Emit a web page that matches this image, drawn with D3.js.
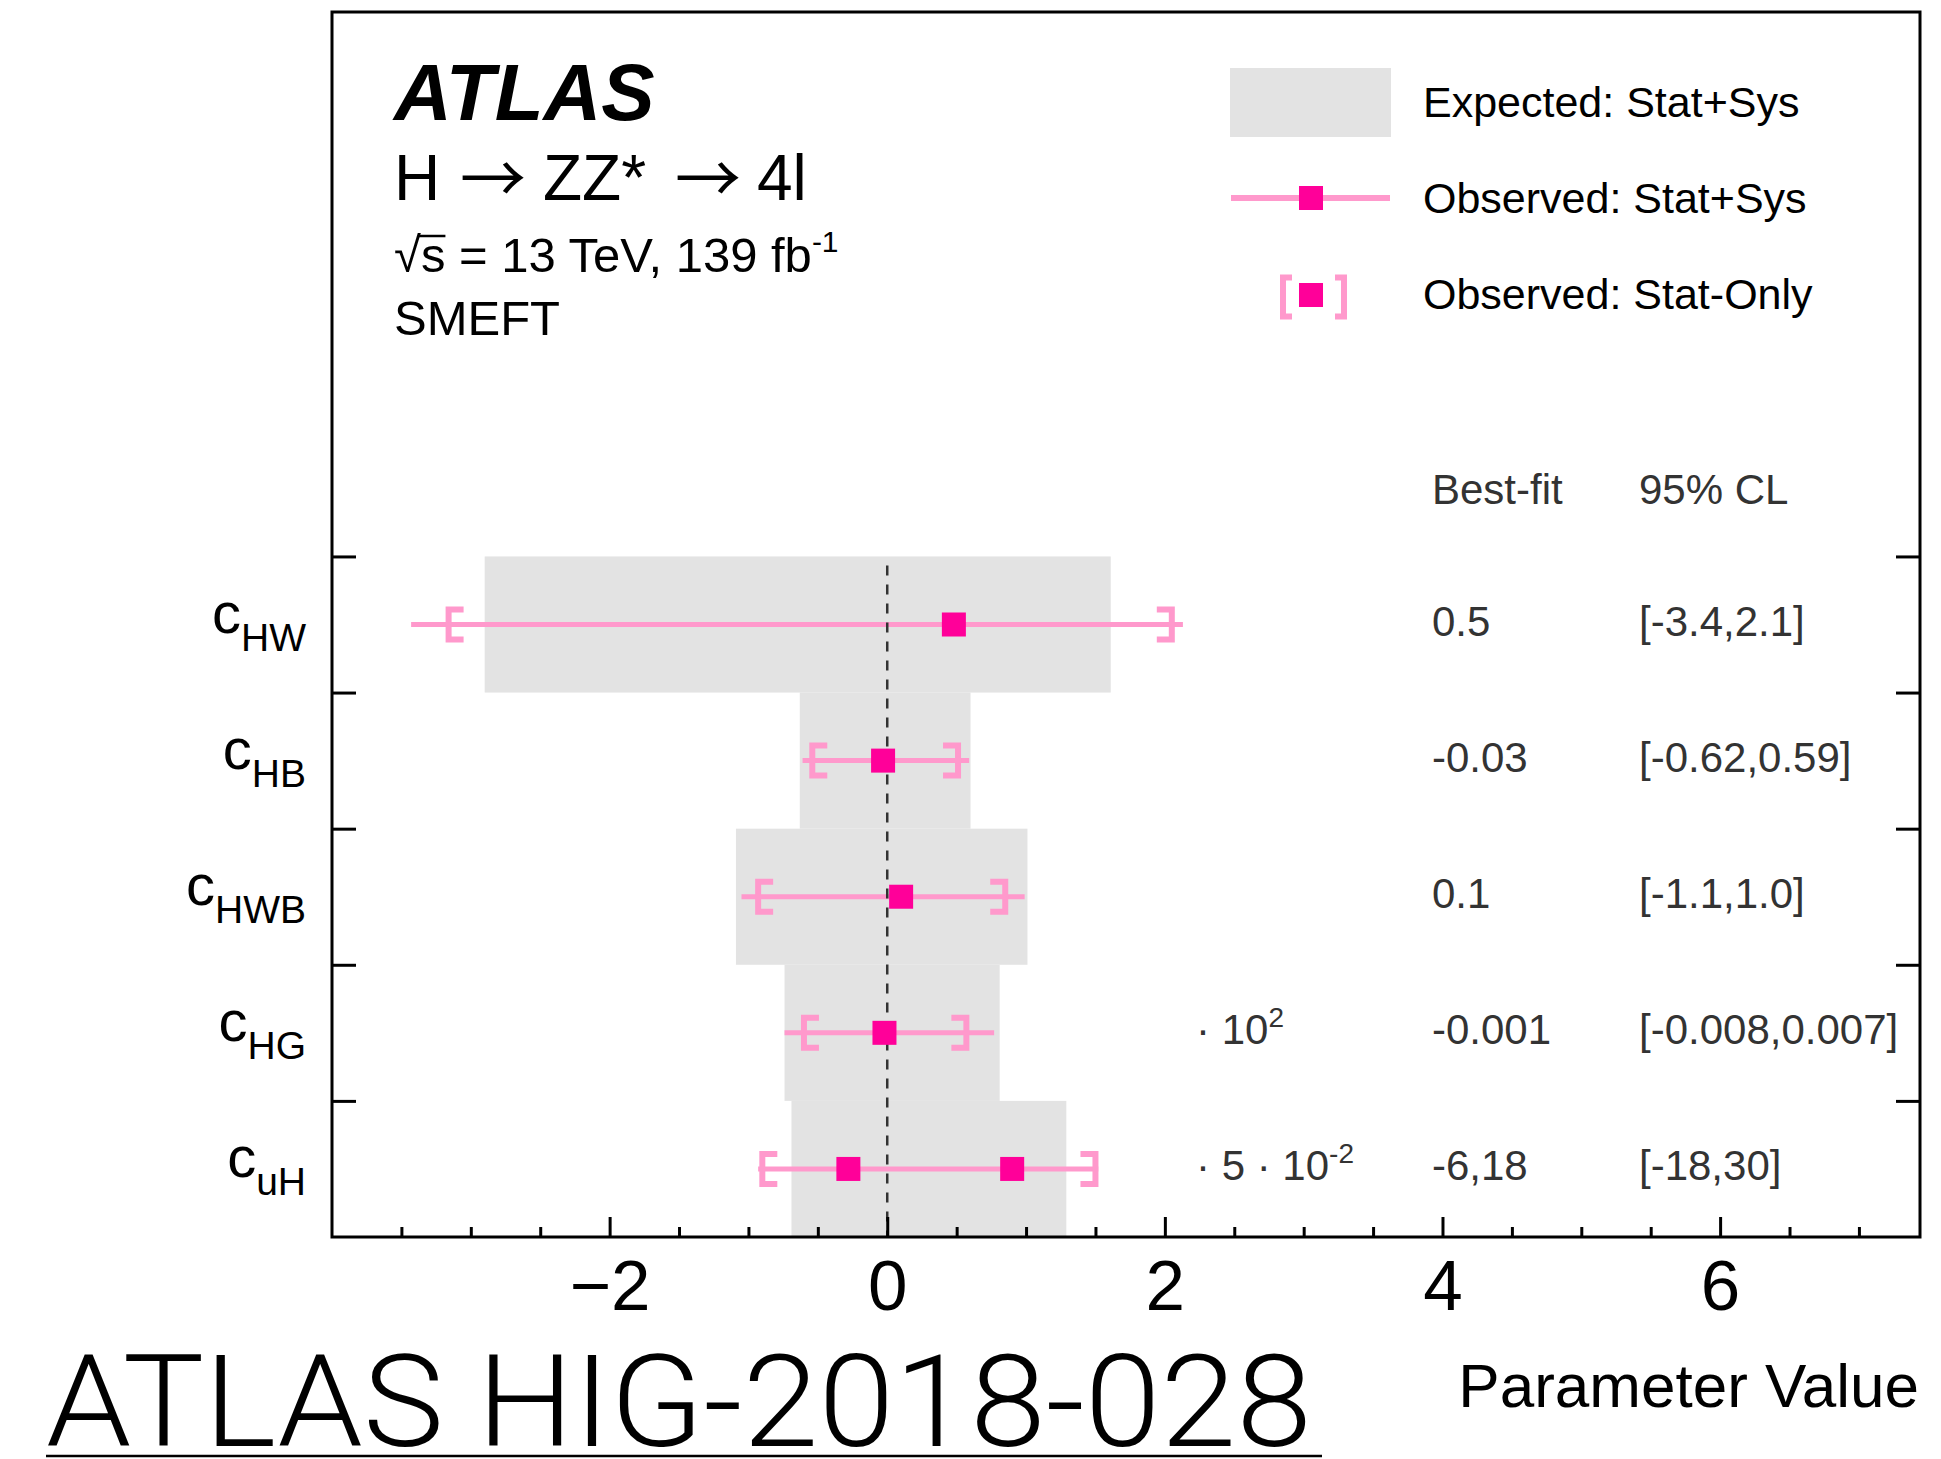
<!DOCTYPE html>
<html>
<head>
<meta charset="utf-8">
<script src="https://cdn.jsdelivr.net/npm/d3@7"></script>
<style>
  body { margin: 0; background: #fff; }
  svg { display: block; font-family: "Liberation Sans", Arial, Helvetica, sans-serif; }
</style>
</head>
<body>
<div id="chart"></div>
<script>
// ---- data (x in plotted units) ----
const params   = ["HW", "HB", "HWB", "HG", "uH"];          // c_{...}, top to bottom
const expLo    = [-2.90, -0.63, -1.09, -0.74, -0.69];       // Expected: Stat+Sys band
const expHi    = [ 1.61,  0.60,  1.01,  0.81,  1.29];
const obsLo    = [-3.43, -0.61, -1.05, -0.74, -0.93];       // Observed: Stat+Sys line
const obsHi    = [ 2.13,  0.59,  0.99,  0.77,  1.52];
const statLo   = [-3.16, -0.54, -0.93, -0.60, -0.90];       // Observed: Stat-Only brackets
const statHi   = [ 2.05,  0.51,  0.85,  0.57,  1.50];
const bestFit  = [[0.48], [-0.03], [0.10], [-0.02], [-0.28, 0.90]];
const scaleTxt = ["", "", "", "\u00b7 10", "\u00b7 5 \u00b7 10"];
const scaleExp = ["", "", "", "2", "-2"];
const bestTxt  = ["0.5", "-0.03", "0.1", "-0.001", "-6,18"];
const clTxt    = ["[-3.4,2.1]", "[-0.62,0.59]", "[-1.1,1.0]", "[-0.008,0.007]", "[-18,30]"];
const majorTicks = [-2, 0, 2, 4, 6];
const minorTicks = [-3.5, -3, -2.5, -1.5, -1, -0.5, 0.5, 1, 1.5, 2.5, 3, 3.5, 4.5, 5, 5.5, 6.5, 7];
const rowEdges = [1, 2, 3, 4, 5];

// ---- layout ----
const W = 1941, H = 1459;
const frame = { left: 332, right: 1920, top: 12, bottom: 1237 };
const pink = "#ff99cc", magenta = "#ff0099", band = "#e3e3e3", txtGray = "#333";

const x = d3.scaleLinear().domain([-4, 7.44]).range([frame.left, frame.right]);
const y = d3.scaleLinear().domain([0, 9]).range([frame.bottom, frame.top]);
const rowY = i => y(4.5 - i);

const svg = d3.select("#chart").append("svg")
  .attr("width", W).attr("height", H);

// bracket: dir = +1 for "[" (arms to the right), -1 for "]"
function bracket(g, xv, yc, h, a, dir, sw) {
  g.append("path")
    .attr("d", `M${xv + dir * a},${yc - h / 2} H${xv} V${yc + h / 2} H${xv + dir * a}`)
    .attr("fill", "none").attr("stroke", pink).attr("stroke-width", sw);
}
function square(g, cx, cy, s) {
  g.append("rect").attr("x", cx - s / 2).attr("y", cy - s / 2)
    .attr("width", s).attr("height", s).attr("fill", magenta);
}

// expected bands
svg.append("g").selectAll("rect").data(params).join("rect")
  .attr("x", (d, i) => x(expLo[i]))
  .attr("width", (d, i) => x(expHi[i]) - x(expLo[i]))
  .attr("y", (d, i) => y(5 - i))
  .attr("height", (d, i) => y(4 - i) - y(5 - i))
  .attr("fill", band);

// observed lines + stat brackets
const obs = svg.append("g");
params.forEach((p, i) => {
  const cy = rowY(i);
  obs.append("line")
    .attr("x1", x(obsLo[i])).attr("x2", x(obsHi[i]))
    .attr("y1", cy).attr("y2", cy)
    .attr("stroke", pink).attr("stroke-width", 5);
  bracket(obs, x(statLo[i]), cy, 30, 15, 1, 6);
  bracket(obs, x(statHi[i]), cy, 30, 15, -1, 6);
});

// zero line
svg.append("line")
  .attr("x1", x(0)).attr("x2", x(0))
  .attr("y1", y(5) + 9).attr("y2", frame.bottom)
  .attr("stroke", "#333").attr("stroke-width", 2.5)
  .attr("stroke-dasharray", "10,9");

// best-fit markers
const pts = svg.append("g");
params.forEach((p, i) => bestFit[i].forEach(v => square(pts, x(v), rowY(i), 24)));

// axes
const axG = svg.append("g").attr("transform", `translate(0,${frame.bottom})`);
axG.call(d3.axisBottom(x).tickValues(majorTicks).tickSize(-20).tickPadding(23)
  .tickFormat(d3.format("d")));
axG.append("g").call(d3.axisBottom(x).tickValues(minorTicks).tickSize(-10).tickFormat(""));
axG.selectAll(".domain").remove();
axG.selectAll(".tick line").attr("stroke", "#000").attr("stroke-width", 3);
axG.selectAll(".tick text").attr("font-size", 71).attr("fill", "#000")
  .attr("font-family", "Liberation Sans, Arial, sans-serif");

svg.append("g").attr("transform", `translate(${frame.left},0)`)
  .call(d3.axisLeft(y).tickValues(rowEdges).tickSize(-24).tickFormat(""))
  .call(g => g.select(".domain").remove())
  .selectAll(".tick line").attr("stroke", "#000").attr("stroke-width", 3);
svg.append("g").attr("transform", `translate(${frame.right},0)`)
  .call(d3.axisRight(y).tickValues(rowEdges).tickSize(-24).tickFormat(""))
  .call(g => g.select(".domain").remove())
  .selectAll(".tick line").attr("stroke", "#000").attr("stroke-width", 3);

svg.append("rect")
  .attr("x", frame.left).attr("y", frame.top)
  .attr("width", frame.right - frame.left).attr("height", frame.bottom - frame.top)
  .attr("fill", "none").attr("stroke", "#000").attr("stroke-width", 3);

// category labels c_{xx}
params.forEach((p, i) => {
  const t = svg.append("text").attr("x", 306).attr("y", rowY(i) + 8)
    .attr("text-anchor", "end").attr("fill", "#000");
  t.append("tspan").attr("font-size", 58).text("c");
  t.append("tspan").attr("font-size", 39).attr("dy", 18).text(p);
});

// table on the right
const tab = svg.append("g").attr("fill", txtGray).attr("font-size", 42);
tab.append("text").attr("x", 1432).attr("y", 504).text("Best-fit");
tab.append("text").attr("x", 1639).attr("y", 504).text("95% CL");
params.forEach((p, i) => {
  const by = rowY(i) + 11;
  tab.append("text").attr("x", 1432).attr("y", by).text(bestTxt[i]);
  tab.append("text").attr("x", 1639).attr("y", by).text(clTxt[i]);
  if (scaleTxt[i]) {
    const t = tab.append("text").attr("x", 1196).attr("y", by);
    t.append("tspan").text(scaleTxt[i]);
    t.append("tspan").attr("font-size", 28).attr("dy", -17).text(scaleExp[i]);
  }
});

// ATLAS labels
svg.append("text").attr("x", 394).attr("y", 120)
  .attr("font-size", 80).attr("font-weight", "bold").attr("font-style", "italic")
  .text("ATLAS");
const proc = svg.append("text").attr("y", 200).attr("font-size", 64);
const arrowFont = "Noto Sans CJK JP, DejaVu Sans, sans-serif";
proc.append("tspan").attr("x", 394).text("H");
proc.append("tspan").attr("x", 460).attr("y", 203).attr("font-family", arrowFont)
  .attr("font-size", 66).text("\u2192");
proc.append("tspan").attr("x", 543).attr("y", 200).text("ZZ*");
proc.append("tspan").attr("x", 675).attr("y", 203).attr("font-family", arrowFont)
  .attr("font-size", 66).text("\u2192");
proc.append("tspan").attr("x", 757).attr("y", 200).text("4l");
const ecm = svg.append("text").attr("x", 394).attr("y", 272).attr("font-size", 49);
ecm.append("tspan").text("\u221as = 13 TeV, 139 fb");
ecm.append("tspan").attr("font-size", 30).attr("dy", -20).text("-1");
{
  const n = ecm.node();
  const x0 = 394 + n.getSubStringLength(0, 1);
  const ws = n.getSubStringLength(1, 1);
  svg.append("line").attr("x1", x0 - 2).attr("x2", x0 + ws)
    .attr("y1", 236).attr("y2", 236).attr("stroke", "#000").attr("stroke-width", 2.5);
}
svg.append("text").attr("x", 394).attr("y", 335).attr("font-size", 49).text("SMEFT");

// legend
const leg = svg.append("g");
leg.append("rect").attr("x", 1230).attr("y", 68).attr("width", 161).attr("height", 69).attr("fill", band);
leg.append("line").attr("x1", 1231).attr("x2", 1390).attr("y1", 198).attr("y2", 198)
  .attr("stroke", pink).attr("stroke-width", 6);
square(leg, 1311, 198, 24);
bracket(leg, 1283, 297, 39, 9, 1, 6);
bracket(leg, 1344, 297, 39, 9, -1, 6);
square(leg, 1311, 295, 24);
const legText = ["Expected: Stat+Sys", "Observed: Stat+Sys", "Observed: Stat-Only"];
const legY = [117, 213, 309];
legText.forEach((s, i) => leg.append("text").attr("x", 1423).attr("y", legY[i])
  .attr("font-size", 43).text(s));

// axis title + reference tag
svg.append("text").attr("x", 1919).attr("y", 1407).attr("text-anchor", "end")
  .attr("font-size", 62).text("Parameter Value");
svg.append("text").attr("x", 46).attr("y", 1446)
  .attr("font-family", "Roboto, Liberation Sans, sans-serif").attr("font-weight", 300)
  .attr("font-size", 128).attr("textLength", 1266).attr("lengthAdjust", "spacingAndGlyphs")
  .text("ATLAS HIG-2018-028");
svg.append("line").attr("x1", 46).attr("x2", 1322).attr("y1", 1456).attr("y2", 1456)
  .attr("stroke", "#000").attr("stroke-width", 2.5);
</script>
</body>
</html>
